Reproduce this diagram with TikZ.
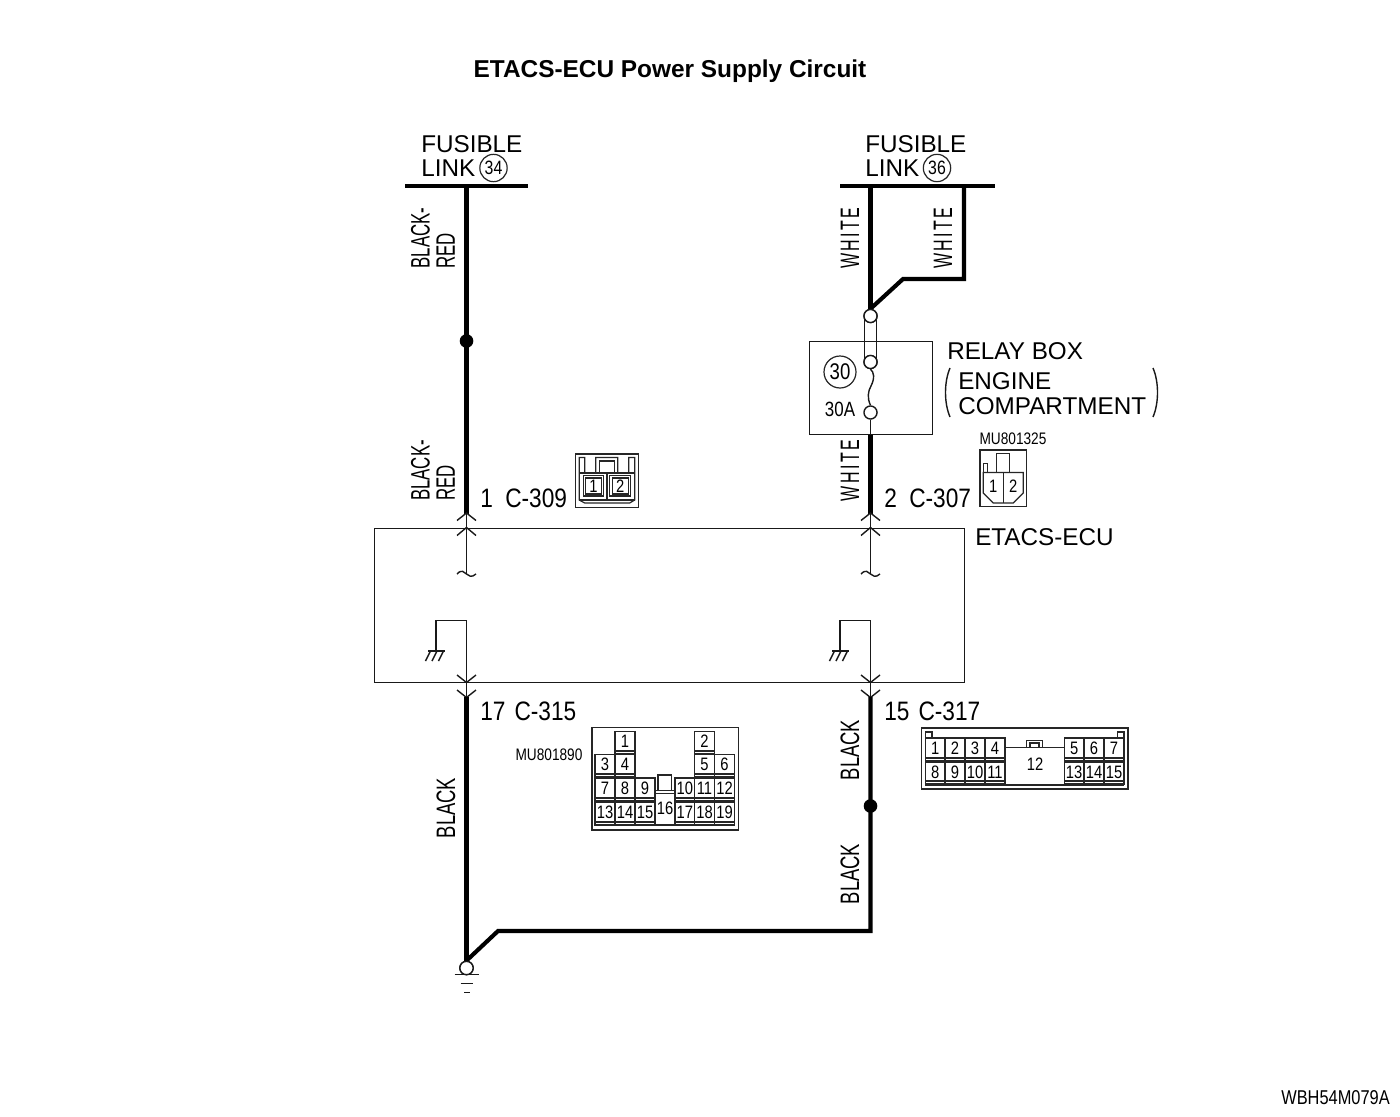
\documentclass[tikz,border=0pt]{standalone}
\usepackage{fontspec}
\setmainfont{Liberation Sans}
\newfontfamily\condf[FakeStretch=0.85]{Liberation Sans}
\newfontfamily\cellf[FakeStretch=0.82]{Liberation Sans}
\newfontfamily\bkrf[FakeStretch=0.63]{Liberation Sans}
\newfontfamily\bkf[FakeStretch=0.69]{Liberation Sans}
\newfontfamily\whf[FakeStretch=0.6,LetterSpace=9]{Liberation Sans}
\begin{document}
\begin{tikzpicture}[x=0.75pt,y=-0.75pt,
  thin line/.style={draw=black!90,line width=1.05pt},
  wire/.style={draw=black,line width=3.1pt,line join=miter},
  bus/.style={draw=black,line width=2.3pt},
  fine/.style={draw=black!85,line width=0.9pt},
  lab/.style={inner sep=0pt,align=left,font=\fontsize{18.2}{17.5}\selectfont},
  code/.style={inner sep=0pt,font=\condf\fontsize{20}{17}\selectfont},
  wlab/.style={inner sep=0pt,rotate=90,align=left,font=\bkrf\fontsize{20}{19}\selectfont},
  part/.style={inner sep=0pt,font=\cellf\fontsize{12.5}{12.5}\selectfont},
  cellno/.style={inner sep=0pt,font=\cellf\fontsize{13.5}{13.5}\selectfont},
  jdot/.style={circle,fill=black,inner sep=0pt,minimum size=10.2pt},
  pin/.style={circle,draw=black!90,line width=1.05pt,fill=white,inner sep=0pt,minimum size=9.8pt},
]
\useasboundingbox (0,0) rectangle (1400,1117);
\fill[white] (0,0) rectangle (1400,1117);

\node[inner sep=0pt,font=\bfseries\fontsize{18.3}{18.3}\selectfont] (title) at (670,71) {ETACS-ECU Power Supply Circuit};

% fusible links
\coordinate (busLa) at (405,186); \coordinate (busLb) at (528,186);
\coordinate (busRa) at (840,186); \coordinate (busRb) at (995,186);
\draw[bus] (busLa) -- (busLb);
\draw[bus] (busRa) -- (busRb);
\node[lab,anchor=west] (fl34a) at (421,144) {FUSIBLE};
\node[lab,anchor=west] (fl34b) at (421,168) {LINK};
\node[circle,draw=black!85,line width=0.9pt,inner sep=0pt,minimum size=20.5pt,font=\cellf\fontsize{14.5}{14.5}\selectfont] (c34) at (493.5,168) {34};
\node[lab,anchor=west] (fl36a) at (865,144) {FUSIBLE};
\node[lab,anchor=west] (fl36b) at (865,168) {LINK};
\node[circle,draw=black!85,line width=0.9pt,inner sep=0pt,minimum size=20.5pt,font=\cellf\fontsize{14.5}{14.5}\selectfont] (c36) at (937,168) {36};

% left feed
\coordinate (Ltop) at (466.5,186);
\coordinate (Lend) at (466.5,514);
\node[jdot] (Ldot) at (466.5,341) {};
\draw[wire] (Ltop) -- (Lend);
\node[wlab] (wl1) at (433,238) {BLACK-\\RED};
\node[wlab] (wl2) at (433,470.5) {BLACK-\\RED};

% right feed
\coordinate (Rtop) at (870.5,186);
\coordinate (Rtop2) at (964,186);
\coordinate (Rb1) at (964,279);
\coordinate (Rb2) at (903,279);
\node[pin] (f1) at (870.5,316) {};
\node[pin] (f2) at (870.5,362) {};
\node[pin] (f3) at (870.5,412.5) {};
\draw[wire] (Rtop) -- (f1.north);
\draw[wire] (Rtop2) -- (Rb1) -- (Rb2) -- (f1.north);

% relay box
\node[draw=black!90,line width=1.05pt,minimum width=92.5pt,minimum height=69.5pt,inner sep=0pt,anchor=north west] (relay) at (808.5,341) {};
\draw[thin line] (864.5,316) -- (864.5,362);
\draw[thin line] (876.5,316) -- (876.5,362);
\node[pin] at (f1) {};
\node[pin] at (f2) {};
\draw[thin line] (f2.south) .. controls (874,372) and (875,378) .. (871,386) .. controls (868,391) and (867,398) .. (f3.north);
\node[circle,draw=black!85,line width=0.9pt,inner sep=0pt,minimum size=24pt,font=\cellf\fontsize{17}{17}\selectfont] (c30) at (840,372) {30};
\node[inner sep=0pt,font=\cellf\fontsize{15.5}{15.5}\selectfont] (a30) at (840,409) {30A};
\coordinate (relayOut) at (870.5,434.5);
\coordinate (Rend) at (870.5,514);
\draw[thin line] (f3.south) -- (relayOut);
\draw[wire] (relayOut) -- (Rend);
\node[lab,anchor=west] (rb1) at (947,351) {RELAY BOX};
\node[lab,anchor=west] (rb2) at (958,381) {ENGINE};
\node[lab,anchor=west] (rb3) at (958,406) {COMPARTMENT};
\draw[thin line] (950,368) .. controls (944,382) and (944,403) .. (950,417);
\draw[thin line] (1153,368) .. controls (1159,382) and (1159,403) .. (1153,417);
\node[wlab,font=\whf\fontsize{20}{19}\selectfont] (wl3) at (850,238) {WHITE};
\node[wlab,font=\whf\fontsize{20}{19}\selectfont] (wl4) at (943,238) {WHITE};
\node[wlab,font=\whf\fontsize{20}{19}\selectfont] (wl5) at (850,470.5) {WHITE};

% ECU box
\node[draw=black!90,line width=1.05pt,minimum width=442.5pt,minimum height=115.5pt,inner sep=0pt,anchor=north west] (ecu) at (374,528) {};
\node[lab,anchor=west] (ecul) at (975,537) {ETACS-ECU};

\foreach \nm/\xx/\gx in {L/466.5/436,R/870.5/840}{
  % top chevrons
  \draw[thin line] (\xx-9.5,520.5) -- (\xx,513) -- (\xx+9.5,520.5);
  \draw[thin line] (\xx-9.5,535.5) -- (\xx,527.5) -- (\xx+9.5,535.5);
  \draw[thin line] (\xx,513) -- (\xx,574);
  \draw[thin line] (\xx-9.5,574) .. controls (\xx-5,569) and (\xx-2,572) .. (\xx,574) .. controls (\xx+2,576) and (\xx+5,578) .. (\xx+9.5,574);
  % internal ground
  \draw[thin line] (\gx,651) -- (\gx,620.5) -- (\xx,620.5) -- (\xx,697);
  \draw[thin line] (\gx-8,651) -- (\gx+9,651);
  \draw[thin line] (\gx-5.5,651) -- (\gx-10.5,661);
  \draw[thin line] (\gx+1,651) -- (\gx-4,661);
  \draw[thin line] (\gx+7.5,651) -- (\gx+2.5,661);
  % bottom chevrons
  \draw[thin line] (\xx-9.5,675) -- (\xx,682.5) -- (\xx+9.5,675);
  \draw[thin line] (\xx-9.5,690) -- (\xx,697.5) -- (\xx+9.5,690);
}

\node[code,anchor=west] (c309) at (480,498.5) {1\hspace{9.3pt}C-309};
\node[code,anchor=west] (c307) at (884,498.5) {2\hspace{9.3pt}C-307};
\node[code,anchor=west] (c315) at (480,711.5) {17\hspace{6.8pt}C-315};
\node[code,anchor=west] (c317) at (884,711.5) {15\hspace{6.8pt}C-317};

% lower wires
\coordinate (Lb) at (466.5,697);
\coordinate (Rb) at (870.5,697);
\coordinate (Rc) at (870.5,931);
\coordinate (Gk) at (498,931);
\node[pin,minimum size=10pt] (gnd) at (466.5,968) {};
\node[jdot] (Rdot) at (870.5,806) {};
\draw[wire] (Lb) -- (gnd.north);
\draw[wire] (Rb) -- (Rc) -- (Gk) -- (gnd.north);
\node[pin,minimum size=10pt] at (gnd) {};
\draw[thin line] (454.5,974.5) -- (479,974.5);
\draw[thin line] (460.5,983.5) -- (473,983.5);
\draw[thin line] (464,992.5) -- (470,992.5);
\node[wlab,font=\bkf\fontsize{20}{19}\selectfont] (wl6) at (446,808) {BLACK};
\node[wlab,font=\bkf\fontsize{20}{19}\selectfont] (wl7) at (850,750) {BLACK};
\node[wlab,font=\bkf\fontsize{20}{19}\selectfont] (wl8) at (850,874) {BLACK};

% C-309 connector view
\begin{scope}[shift={(575.7,454)}]
  \draw[fine] (0,0) rectangle (62.6,53.7);
  \draw[fine] (3.5,3.5) -- (3.5,46) -- (9,49) -- (54,49) -- (59,46) -- (59,3.5) -- (53,3.5) -- (53,19) -- (42,19) -- (42,3.5) -- (20,3.5) -- (20,19) -- (9,19) -- (9,3.5) -- cycle;
  \draw[fine] (24,19) -- (24,7) -- (38.5,7) -- (38.5,19);
  \draw[fine] (3.5,19) -- (59,19);
  \draw[fine] (31.3,19) -- (31.3,46);
  \draw[fine] (3.5,46) -- (59,46);
  \draw[fine] (7.5,21.5) rectangle (28,42);
  \draw[fine] (34,21.5) rectangle (55,42);
  \draw[fine] (10,24) rectangle (25.5,40);
  \draw[fine] (36.5,24) rectangle (52.5,40);
  \node[cellno] (p309a) at (17.7,32) {1};
  \node[cellno] (p309b) at (44.5,32) {2};
\end{scope}

% C-307 connector view
\node[part] (mu1) at (1013,439) {MU801325};
\begin{scope}[shift={(980,450)}]
  \draw[fine] (0,0) rectangle (46.7,56.7);
  \draw[fine] (3.3,22.5) -- (43.3,22.5) -- (43.3,43) -- (33.3,53) -- (13.3,53) -- (3.3,43) -- cycle;
  \draw[fine] (23.3,22.5) -- (23.3,53);
  \draw[fine] (16.7,22.5) -- (16.7,3.3) -- (29.3,3.3) -- (29.3,22.5);
  \draw[fine] (3.3,22.5) -- (3.3,13.5) -- (7.3,13.5) -- (7.3,22.5);
  \node[cellno] (p307a) at (13.3,36.5) {1};
  \node[cellno] (p307b) at (33.3,36.5) {2};
\end{scope}

% C-315 connector view
\node[part] (mu2) at (549,755) {MU801890};
\draw[fine,line width=1.1pt] (592,727.5) rectangle (738.5,830);
\draw[fine,line width=1.1pt] (595,825) -- (734.5,825);
\foreach \n/\xa/\xb/\ya/\yb in {
  1/615/635/731.5/751, 2/694.5/714.5/731.5/751,
  3/595/615/754.5/774, 4/615/635/754.5/774, 5/694.5/714.5/754.5/774, 6/714.5/734.5/754.5/774,
  7/595/615/778/798, 8/615/635/778/798, 9/635/655/778/798, 10/675/694.5/778/798, 11/694.5/714.5/778/798, 12/714.5/734.5/778/798,
  13/595/615/802/822, 14/615/635/802/822, 15/635/655/802/822, 17/675/694.5/802/822, 18/694.5/714.5/802/822, 19/714.5/734.5/802/822}{
  \draw[fine] (\xa,\ya) rectangle (\xb,\yb);
  \draw[fine] (\xa,\yb) -- (\xa,\yb+3.5);
  \draw[fine] (\xb,\yb) -- (\xb,\yb+3.5);
  \draw[fine] (\xa,\yb+3) -- (\xb,\yb+3);
  \node[cellno] (p15n\n) at ({(\xa+\xb)/2},{(\ya+\yb)/2}) {\n};
}
\draw[fine] (655,790.5) rectangle (675,825);
\draw[fine] (655,793.5) -- (675,793.5);
\draw[fine] (658,790.5) -- (658,775) -- (671.5,775) -- (671.5,790.5);
\node[cellno] (p15n16) at (665,808) {16};

% C-317 connector view
\draw[fine,line width=1.1pt] (921.7,728) rectangle (1128,789);
\draw[fine] (925.5,732) rectangle (932,738);
\draw[fine] (1117.5,732) rectangle (1124,738);
\draw[fine] (925.3,785) -- (1124,785);
\foreach \n/\xa/\xb/\ya/\yb in {
  1/925.3/945/738/758, 2/945/965/738/758, 3/965/985/738/758, 4/985/1005/738/758,
  5/1064.3/1084/738/758, 6/1084/1104/738/758, 7/1104/1124/738/758,
  8/925.3/945/762/781, 9/945/965/762/781, 10/965/985/762/781, 11/985/1005/762/781,
  13/1064.3/1084/762/781, 14/1084/1104/762/781, 15/1104/1124/762/781}{
  \draw[fine] (\xa,\ya) rectangle (\xb,\yb);
  \draw[fine] (\xa,\yb) -- (\xa,\yb+4);
  \draw[fine] (\xb,\yb) -- (\xb,\yb+4);
  \draw[fine] (\xa,\yb+3) -- (\xb,\yb+3);
  \node[cellno] (p17n\n) at ({(\xa+\xb)/2},{(\ya+\yb)/2+0.5}) {\n};
}
\draw[fine] (1005,747.7) -- (1064.3,747.7);
\draw[fine] (1026.7,747.7) -- (1026.7,740.7) -- (1042.3,740.7) -- (1042.3,747.7);
\draw[fine] (1030,747.7) -- (1030,743) -- (1039,743) -- (1039,747.7);
\node[cellno] (p17n12) at (1035,764.5) {12};

\node[inner sep=0pt,anchor=east,font=\cellf\fontsize{15}{15}\selectfont] (ref) at (1390,1098) {WBH54M079A};
\end{tikzpicture}
\end{document}
